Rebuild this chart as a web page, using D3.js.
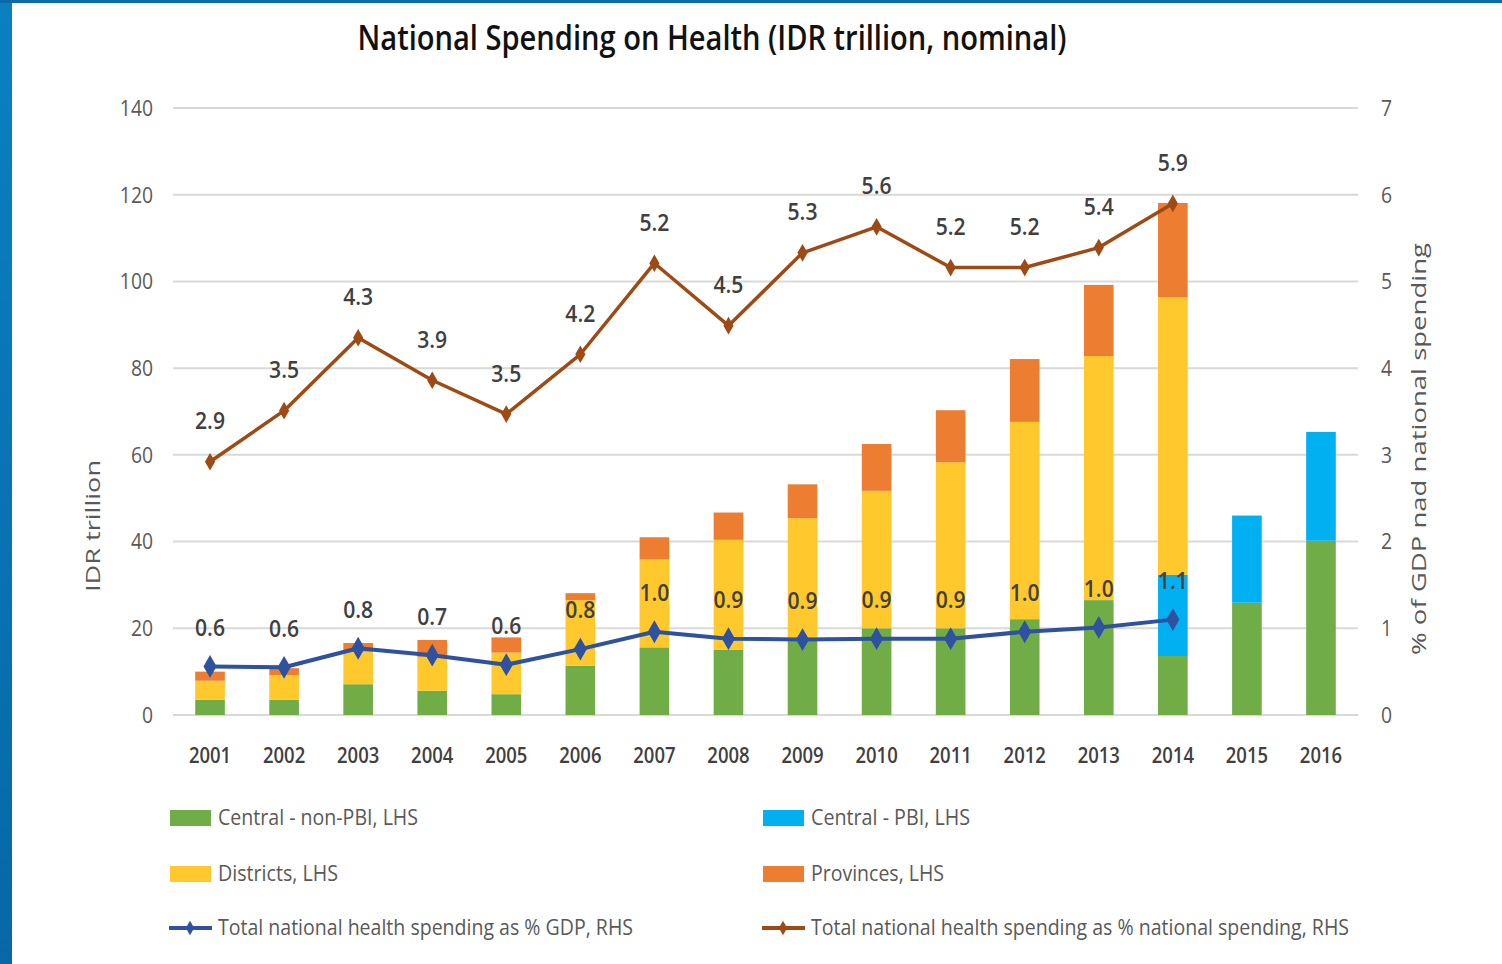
<!DOCTYPE html>
<html>
<head>
<meta charset="utf-8">
<script src="https://cdn.jsdelivr.net/npm/d3@7"></script>
<style>
  html, body { margin: 0; padding: 0; background: #ffffff; }
  svg { display: block; }
  text { font-family: "Open Sans", "Noto Sans", "Liberation Sans", sans-serif; }
</style>
</head>
<body>
<svg id="chart" width="1502" height="964"></svg>
<script>
// Fiscal years shown on the category axis
const years = ["2001","2002","2003","2004","2005","2006","2007","2008","2009","2010","2011","2012","2013","2014","2015","2016"];

// Stacked spending components, IDR trillion (left axis)
const centralNonPBI = [3.5, 3.5, 7.1, 5.6, 4.8, 11.4, 15.6, 15.0, 17.8, 20.0, 20.0, 22.1, 26.5, 13.6, 25.9, 40.2];
const centralPBI    = [0, 0, 0, 0, 0, 0, 0, 0, 0, 0, 0, 0, 0, 18.7, 20.1, 25.1];
const districts     = [4.4, 5.7, 7.5, 7.8, 9.6, 15.1, 20.3, 25.4, 27.6, 31.7, 38.3, 45.5, 56.3, 64.1, 0, 0];
const provinces     = [2.1, 1.6, 2.0, 3.9, 3.5, 1.6, 5.1, 6.3, 7.8, 10.8, 12.0, 14.5, 16.4, 21.7, 0, 0];

// Ratios, percent (right axis); available through 2014
const pctGDP      = [0.56, 0.55, 0.77, 0.69, 0.58, 0.76, 0.96, 0.88, 0.87, 0.88, 0.88, 0.96, 1.01, 1.10];
const pctNational = [2.92, 3.51, 4.35, 3.86, 3.47, 4.16, 5.21, 4.49, 5.33, 5.63, 5.16, 5.16, 5.39, 5.90];

// Axis ticks
const leftTicks  = [0, 20, 40, 60, 80, 100, 120, 140];
const rightTicks = [0, 1, 2, 3, 4, 5, 6, 7];

const svg = d3.select("#chart");
const W = 1502, H = 964;

// Narrow the glyphs of a text selection horizontally (condensed look)
function squeeze(sel, k) {
  sel.each(function () {
    const w = this.getComputedTextLength();
    d3.select(this).attr("textLength", w * k).attr("lengthAdjust", "spacingAndGlyphs");
  });
}
// Fit a single text to a given overall width
function fitTo(sel, width) {
  sel.attr("textLength", width).attr("lengthAdjust", "spacingAndGlyphs");
}

// Blue slide frame at the left and top edges
const defs = svg.append("defs");
const grad = defs.append("linearGradient").attr("id", "frameGrad")
  .attr("x1", 0).attr("y1", 0).attr("x2", 0).attr("y2", 1);
grad.append("stop").attr("offset", "0%").attr("stop-color", "#0a80c0");
grad.append("stop").attr("offset", "100%").attr("stop-color", "#0668a8");
svg.append("rect").attr("x", 0).attr("y", 0).attr("width", 12).attr("height", H).attr("fill", "url(#frameGrad)");
svg.append("rect").attr("x", 0).attr("y", 0).attr("width", W).attr("height", 3).attr("fill", "#0a6aac");

const plot = { left: 173, right: 1358, top: 108, bottom: 715 };

const x = d3.scaleBand().domain(years)
  .range([plot.left, plot.right]).paddingInner(0.6).paddingOuter(0.3);
const yL = d3.scaleLinear().domain([0, 140]).range([plot.bottom, plot.top]);
const yR = d3.scaleLinear().domain([0, 7]).range([plot.bottom, plot.top]);

const colors = {
  nonPBI: "#70ad47",
  pbi: "#00b0f0",
  districts: "#ffc82c",
  provinces: "#ed7d31",
  gdp: "#2f52a0",
  national: "#9e4a14"
};
const axisText = "#595959";
const labelText = "#404040";

// Gridlines
svg.append("g").selectAll("line").data(leftTicks).join("line")
  .attr("x1", plot.left).attr("x2", plot.right)
  .attr("y1", d => yL(d)).attr("y2", d => yL(d))
  .attr("stroke", "#d9d9d9").attr("stroke-width", 2);

// Left axis labels
const axL = d3.axisLeft(yL).tickValues(leftTicks).tickSize(0).tickPadding(0);
svg.append("g").attr("transform", `translate(153,0)`).call(axL)
  .call(g => g.select(".domain").remove())
  .call(g => g.selectAll("text").attr("fill", axisText).attr("font-size", 21)
    .attr("font-family", "Open Sans").attr("dy", "0.35em").call(squeeze, 0.92));

// Right axis labels
const axR = d3.axisRight(yR).tickValues(rightTicks).tickFormat(d3.format("d")).tickSize(0).tickPadding(0);
svg.append("g").attr("transform", `translate(1381,0)`).call(axR)
  .call(g => g.select(".domain").remove())
  .call(g => g.selectAll("text").attr("fill", axisText).attr("font-size", 21)
    .attr("font-family", "Open Sans").attr("dy", "0.35em").call(squeeze, 0.92));

// Category axis labels
const axB = d3.axisBottom(x).tickSize(0).tickPadding(0);
svg.append("g").attr("transform", `translate(0,748)`).call(axB)
  .call(g => g.select(".domain").remove())
  .call(g => g.selectAll("text").attr("fill", labelText).attr("font-size", 21)
    .attr("font-family", "Open Sans").attr("font-weight", 600).attr("dy", "0.71em").call(squeeze, 0.88));

// Axis titles
svg.append("text").attr("transform", "translate(100,526) rotate(-90)")
  .attr("text-anchor", "middle").attr("fill", axisText).attr("font-size", 20)
  .text("IDR trillion").call(fitTo, 132);
svg.append("text").attr("transform", "translate(1426,449) rotate(-90)")
  .attr("text-anchor", "middle").attr("fill", axisText).attr("font-size", 20)
  .text("% of GDP nad national spending").call(fitTo, 412);

// Title
svg.append("text").attr("x", 712).attr("y", 50)
  .attr("text-anchor", "middle").attr("fill", "#111").attr("font-size", 34)
  .attr("font-weight", 600)
  .text("National Spending on Health (IDR trillion, nominal)").call(fitTo, 709);

// Stacked bars
const keys = ["nonPBI", "pbi", "districts", "provinces"];
const rows = years.map((yr, i) => ({
  year: yr,
  nonPBI: centralNonPBI[i],
  pbi: centralPBI[i],
  districts: districts[i],
  provinces: provinces[i]
}));
const stacked = d3.stack().keys(keys)(rows);
svg.append("g").selectAll("g").data(stacked).join("g")
  .attr("fill", d => colors[d.key])
  .selectAll("rect").data(d => d.filter(s => s[1] - s[0] > 0)).join("rect")
  .attr("x", d => x(d.data.year))
  .attr("width", x.bandwidth())
  .attr("y", d => yL(d[1]))
  .attr("height", d => yL(d[0]) - yL(d[1]));

// Ratio lines with diamond markers and value labels
const lineYears = years.slice(0, 14);
function drawRatio(values, color, width, markerSize, labelOffset) {
  const pts = values.map((v, i) => ({ year: lineYears[i], v }));
  const line = d3.line().x(d => x(d.year) + x.bandwidth() / 2).y(d => yR(d.v));
  const g = svg.append("g");
  g.append("path").datum(pts).attr("d", line)
    .attr("fill", "none").attr("stroke", color).attr("stroke-width", width)
    .attr("stroke-linejoin", "round");
  g.selectAll("path.mk").data(pts).join("path").attr("class", "mk")
    .attr("d", d3.symbol(d3.symbolDiamond, markerSize))
    .attr("transform", d => `translate(${x(d.year) + x.bandwidth() / 2},${yR(d.v)})`)
    .attr("fill", color);
  g.selectAll("text").data(pts).join("text")
    .attr("x", d => x(d.year) + x.bandwidth() / 2)
    .attr("y", d => yR(d.v) - labelOffset)
    .attr("dy", "0.35em")
    .attr("text-anchor", "middle").attr("fill", labelText)
    .attr("font-size", 24).attr("font-weight", 600)
    .text(d => d3.format(".1f")(d.v))
    .call(squeeze, 0.88);
}
drawRatio(pctNational, colors.national, 3.5, 90, 41);
drawRatio(pctGDP, colors.gdp, 4, 150, 39);

// Legend
const legendItems = [
  { label: "Central - non-PBI, LHS", color: colors.nonPBI, type: "bar", x: 170, y: 818, w: 200 },
  { label: "Central - PBI, LHS", color: colors.pbi, type: "bar", x: 763, y: 818, w: 159 },
  { label: "Districts, LHS", color: colors.districts, type: "bar", x: 170, y: 874, w: 120 },
  { label: "Provinces, LHS", color: colors.provinces, type: "bar", x: 763, y: 874, w: 133 },
  { label: "Total national health spending as % GDP, RHS", color: colors.gdp, type: "line", x: 170, y: 928, w: 415 },
  { label: "Total national health spending as % national spending, RHS", color: colors.national, type: "line", x: 763, y: 928, w: 538 }
];
const lg = svg.append("g").selectAll("g").data(legendItems).join("g")
  .attr("transform", d => `translate(${d.x},${d.y})`);
lg.filter(d => d.type === "bar").append("rect")
  .attr("x", 0).attr("y", -8).attr("width", 41).attr("height", 16).attr("fill", d => d.color);
lg.filter(d => d.type === "line").append("line")
  .attr("x1", -1).attr("x2", 42).attr("y1", 0).attr("y2", 0)
  .attr("stroke", d => d.color).attr("stroke-width", 4);
lg.filter(d => d.type === "line").append("path")
  .attr("d", d3.symbol(d3.symbolDiamond, 60)).attr("transform", "translate(20,0)")
  .attr("fill", d => d.color);
lg.append("text").attr("x", 48).attr("y", 0).attr("dy", "0.35em")
  .attr("fill", axisText).attr("font-size", 21)
  .text(d => d.label)
  .attr("textLength", d => d.w).attr("lengthAdjust", "spacingAndGlyphs");
</script>
</body>
</html>
